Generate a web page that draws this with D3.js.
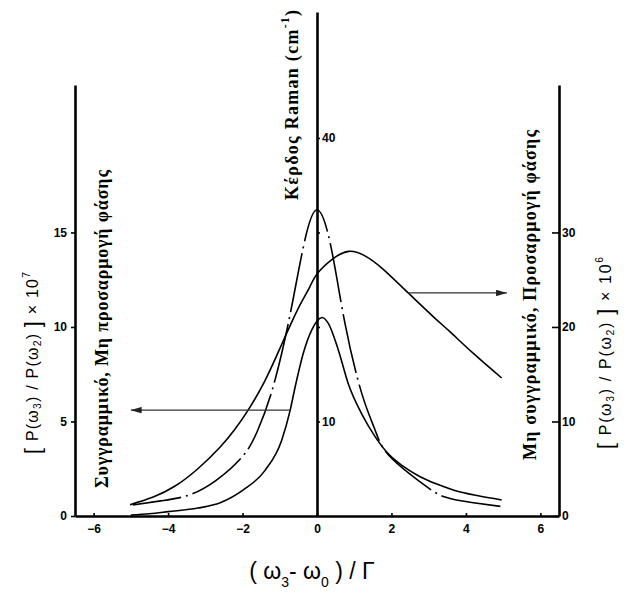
<!DOCTYPE html>
<html>
<head>
<meta charset="utf-8">
<script src="https://cdn.jsdelivr.net/npm/d3@7/dist/d3.min.js"></script>
<style>
  html, body { margin: 0; padding: 0; background: #fff; }
  svg { display: block; }
</style>
</head>
<body>
<script>
// ---- data ----
const xTicks = [-6, -4, -2, 0, 2, 4, 6];
const leftTicks = [0, 5, 10, 15];
const rightTicks = [0, 10, 20, 30];
const centerTicks = [10, 20, 30, 40];
const centerTickLabels = [10, 40];

// collinear, non phase matched  (left axis, x10^7)
const narrowX = [-5.0, -4.5, -4.0, -3.2, -2.6, -1.98, -1.4, -0.95, -0.72, -0.59, -0.37, -0.14, 0.14, 0.3, 0.57, 0.84, 1.2, 1.56, 1.91, 2.3, 2.77, 3.2, 3.66, 4.3, 4.96];
const narrowY = [0.05, 0.12, 0.23, 0.42, 0.7, 1.38, 2.4, 4.0, 5.6, 6.8, 8.6, 9.85, 10.5, 10.2, 8.8, 7.0, 5.4, 4.2, 3.3, 2.65, 2.08, 1.7, 1.38, 1.08, 0.85];

// Raman gain (centre axis, cm^-1)
const ramanX = [-4.95, -4.2, -3.45, -2.7, -1.98, -1.6, -1.22, -0.77, -0.37, 0, 0.38, 0.75, 1.2, 1.55, 1.91, 2.77, 3.44, 4.2, 4.96];
const ramanY = [1.16, 1.6, 2.2, 3.8, 6.4, 9.0, 13.1, 20.4, 28.4, 32.4, 28.4, 20.4, 13.0, 9.2, 6.5, 3.6, 2.0, 1.4, 1.0];

// non collinear, phase matched (right axis, x10^6)
const broadX = [-5.02, -4.4, -3.8, -3.2, -2.6, -2.2, -1.85, -1.4, -1.0, -0.75, -0.46, -0.2, 0, 0.39, 0.85, 1.3, 1.78, 2.45, 3.12, 3.57, 4.2, 4.96];
const broadY = [1.2, 2.0, 3.2, 5.0, 7.3, 9.2, 11.2, 14.3, 17.7, 19.9, 22.3, 24.2, 25.6, 27.1, 28.0, 27.5, 26.1, 23.6, 21.1, 19.5, 17.2, 14.6];

// arrows pointing from a curve to its axis
const arrowFrom = [-0.72, 2.45];
const arrowTo = [-5.0, 5.1];
const arrowLevel = [5.6, 23.6];
const arrowAxis = ["left", "right"];

// ---- drawing ----
const W = 637, H = 592;
const svg = d3.select("body").append("svg").attr("width", W).attr("height", H)
  .style("background", "#fff");

const x = d3.scaleLinear([-6.5, 6.5], [75, 559]);
const yL = d3.scaleLinear([0, 22.8], [516, 85]);
const yR = d3.scaleLinear([0, 45.6], [516, 85]);
const yC = d3.scaleLinear([0, 53.33], [516, 12]);

const tickFont = "Liberation Sans, Arial, sans-serif";

function styleAxis(g) {
  g.select(".domain").attr("stroke", "#000").attr("stroke-width", 2.6);
  g.selectAll(".tick line").attr("stroke", "#000").attr("stroke-width", 1.6);
  g.selectAll(".tick text").attr("fill", "#000")
    .style("font-family", tickFont).style("font-weight", "bold").style("font-size", "12px");
}

// x axis
svg.append("g").attr("transform", `translate(0,${yL(0)})`)
  .call(d3.axisBottom(x).tickValues(xTicks).tickSizeInner(-3).tickSizeOuter(0).tickPadding(8)
    .tickFormat(d3.format("d")))
  .call(styleAxis);

// left axis
svg.append("g").attr("transform", `translate(${x(-6.5)},0)`)
  .call(d3.axisLeft(yL).tickValues(leftTicks).tickSizeInner(4).tickSizeOuter(0).tickPadding(4))
  .call(styleAxis);

// right axis
svg.append("g").attr("transform", `translate(${x(6.5)},0)`)
  .call(d3.axisRight(yR).tickValues(rightTicks).tickSizeInner(-7).tickSizeOuter(0).tickPadding(3))
  .call(styleAxis);

// centre axis
svg.append("g").attr("transform", `translate(${x(0)},0)`)
  .call(d3.axisRight(yC).tickValues(centerTicks).tickSizeInner(3).tickSizeOuter(0).tickPadding(2)
    .tickFormat(d => centerTickLabels.includes(d) ? d : ""))
  .call(styleAxis);

// curves
const lineGen = (xs, ys, sc, curve) => d3.line()
  .x((d, i) => x(xs[i])).y((d, i) => sc(ys[i]))
  .curve(curve)(xs);

svg.append("path").attr("d", lineGen(broadX, broadY, yR, d3.curveNatural))
  .attr("fill", "none").attr("stroke", "#000").attr("stroke-width", 1.6);
svg.append("path").attr("d", lineGen(narrowX, narrowY, yL, d3.curveMonotoneX))
  .attr("fill", "none").attr("stroke", "#000").attr("stroke-width", 1.6);
const raman = svg.append("path").attr("d", lineGen(ramanX, ramanY, yC, d3.curveNatural))
  .attr("fill", "none").attr("stroke", "#000").attr("stroke-width", 1.6);

// align the dash-dot pattern so a dot falls on the reading at x = -0.37
(function alignDash() {
  const node = raman.node();
  const total = node.getTotalLength();
  const tx = x(ramanX[8]), ty = yC(ramanY[8]);
  let best = 0, bd = Infinity;
  for (let s = 0; s <= total; s += 0.5) {
    const p = node.getPointAtLength(s);
    const d = (p.x - tx) ** 2 + (p.y - ty) ** 2;
    if (d < bd) { bd = d; best = s; }
  }
  const dash = 60, gap = 5, dot = 2, period = dash + gap + dot + gap;
  const dotCentre = dash + gap + dot / 2;
  const off = (((dotCentre - best) % period) + period) % period;
  raman.attr("stroke-dasharray", `${dash},${gap},${dot},${gap}`).attr("stroke-dashoffset", off);
})();

// arrows
const defs = svg.append("defs");
defs.append("marker").attr("id", "ah").attr("viewBox", "0 0 10 6")
  .attr("refX", 10).attr("refY", 3).attr("markerWidth", 11).attr("markerHeight", 6.5)
  .attr("markerUnits", "userSpaceOnUse").attr("orient", "auto")
  .append("path").attr("d", "M0,0 L10,3 L0,6 Z").attr("fill", "#222");

arrowFrom.forEach((f, i) => {
  const ys = arrowAxis[i] === "left" ? yL : yR;
  svg.append("line")
    .attr("x1", x(f)).attr("x2", x(arrowTo[i]))
    .attr("y1", ys(arrowLevel[i])).attr("y2", ys(arrowLevel[i]))
    .attr("stroke", "#333").attr("stroke-width", 1.2)
    .attr("marker-end", "url(#ah)");
});

// ---- labels ----
function vLabel(cx, cy, font, size, weight, parts, len) {
  const t = svg.append("text")
    .attr("transform", `translate(${cx},${cy}) rotate(-90)`)
    .attr("text-anchor", "middle").attr("dominant-baseline", "central")
    .style("font-family", font).style("font-size", size + "px").style("font-weight", weight)
    .attr("fill", "#000");
  parts.forEach(p => {
    const s = t.append("tspan").text(p.t);
    if (p.sub) s.attr("baseline-shift", "sub").style("font-size", (size * 0.65) + "px");
    if (p.sup) s.attr("baseline-shift", "super").style("font-size", (size * 0.65) + "px");
    if (p.big) s.style("font-size", (size * 1.35) + "px");
  });
  if (len) t.attr("textLength", len).attr("lengthAdjust", "spacing");
  return t;
}

const serif = "Liberation Serif, Times New Roman, serif";
const sans = "Liberation Sans, Arial, sans-serif";

vLabel(102, 329, serif, 18, "bold", [{ t: "Συγγραμμικό, Μη προσαρμογή φάσης" }], 318);
vLabel(530, 295, serif, 18, "bold", [{ t: "Μη συγγραμμικό, Προσαρμογή φάσης" }], 330);
vLabel(292, 105, serif, 18, "bold", [{ t: "Κέρδος Raman (cm" }, { t: "-1", sup: true }, { t: ")" }], 190);

const yLabelParts = (e) => [
  { t: "[", big: true }, { t: " P(ω" }, { t: "3", sub: true }, { t: ") / P(ω" }, { t: "2", sub: true },
  { t: ") " }, { t: "]", big: true }, { t: " × 10" }, { t: e, sup: true }
];
vLabel(32, 363, sans, 16, "normal", yLabelParts("7"), 182);
vLabel(605, 353, sans, 16, "normal", yLabelParts("6"), 192);

// x label
const xl = svg.append("text").attr("x", 312).attr("y", 579).attr("text-anchor", "middle")
  .style("font-family", sans).style("font-size", "23px").attr("fill", "#000");
xl.append("tspan").text("( ω");
xl.append("tspan").text("3").attr("baseline-shift", "sub").style("font-size", "14px");
xl.append("tspan").text("- ω");
xl.append("tspan").text("0").attr("baseline-shift", "sub").style("font-size", "14px");
xl.append("tspan").text(" )  /  Γ");
</script>
</body>
</html>
